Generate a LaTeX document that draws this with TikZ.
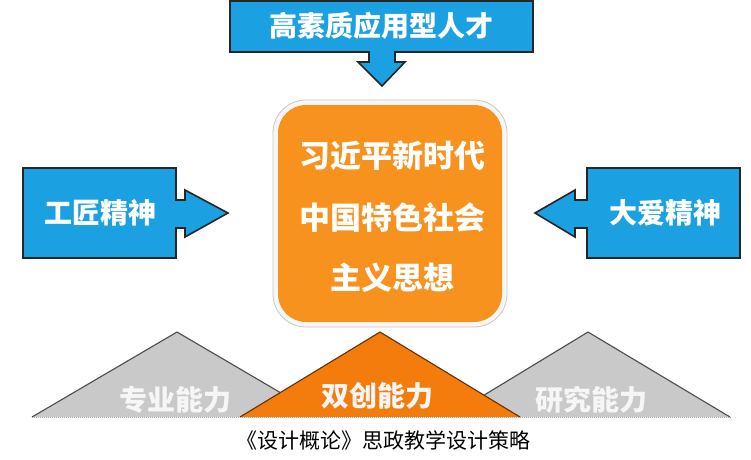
\documentclass[tikz,border=0pt]{standalone}
\usepackage{fontspec}
\newfontfamily\cjk{Noto Sans CJK SC}
\definecolor{boxblue}{HTML}{1BA0E2}
\definecolor{boxorange}{HTML}{F7921E}
\definecolor{triorange}{HTML}{F47C0C}
\definecolor{trigray}{HTML}{C9C9C9}
\begin{document}
\begin{tikzpicture}[x=1pt,y=-1pt,
  bluearrow/.style={fill=boxblue,draw=black!85,line width=1.6pt,line join=miter},
  whitetext/.style={text=white,font=\cjk\bfseries\fontsize{28}{30}\selectfont,inner sep=0pt},
  tritext/.style={text=white!93!gray,font=\cjk\bfseries\fontsize{28}{30}\selectfont,inner sep=0pt},
  graytri/.style={fill=trigray},
  edgeline/.style={draw=black!70,line width=1.1pt}]
\useasboundingbox (0,0) rectangle (751,459);
% top box
\draw[bluearrow] (230,1) -- (533,1) -- (533,52) -- (395,52) -- (395,62) -- (405,62) -- (382,86) -- (358,62) -- (369,62) -- (369,52) -- (230,52) -- cycle;
\node[whitetext] (top) at (381,26) {高素质应用型人才};
% left box
\draw[bluearrow] (23,168) -- (176,168) -- (176,200) -- (185,200) -- (185,190) -- (228,213) -- (185,237) -- (185,228) -- (176,228) -- (176,258) -- (23,258) -- cycle;
\node[whitetext] (left) at (100,213) {工匠精神};
% right box
\draw[bluearrow] (740,168) -- (587,168) -- (587,200) -- (575,200) -- (575,190) -- (535,213) -- (575,237) -- (575,228) -- (587,228) -- (587,258) -- (740,258) -- cycle;
\node[whitetext] (right) at (665,213) {大爱精神};
% centre box
\draw[fill=gray!6,draw=gray!45,line width=0.8pt,rounded corners=33pt] (273,100) rectangle (507,327);
\fill[boxorange,rounded corners=28pt] (278,105) rectangle (502,322);
\node[whitetext,font=\cjk\bfseries\fontsize{31}{33}\selectfont] (c1) at (392,156) {习近平新时代};
\node[whitetext,font=\cjk\bfseries\fontsize{31}{33}\selectfont] (c2) at (392,218) {中国特色社会};
\node[whitetext,font=\cjk\bfseries\fontsize{31}{33}\selectfont] (c3) at (392,278) {主义思想};
% triangles
\fill[graytri] (32,417) -- (177,332) -- (322,417) -- cycle;
\draw[edgeline] (32,417) -- (177,332) -- (322,417);
\fill[graytri] (448,417) -- (588,332) -- (730,417) -- cycle;
\draw[edgeline] (448,417) -- (588,332) -- (730,417);
\fill[triorange] (240,417) -- (380,332) -- (520,417) -- cycle;
\draw[draw=black!60!triorange,line width=1.1pt] (240,417) -- (380,332) -- (520,417);
\draw[gray!70,line width=1pt,densely dotted] (32,417) -- (732,417);
\node[tritext] (t1) at (175,400) {专业能力};
\node[tritext] (t2) at (377,396) {双创能力};
\node[tritext] (t3) at (591,400) {研究能力};
% caption
\node[inner sep=0pt,font=\cjk\fontsize{21}{23}\selectfont] (cap) at (383,440) {《设计概论》思政教学设计策略};
\end{tikzpicture}
\end{document}
